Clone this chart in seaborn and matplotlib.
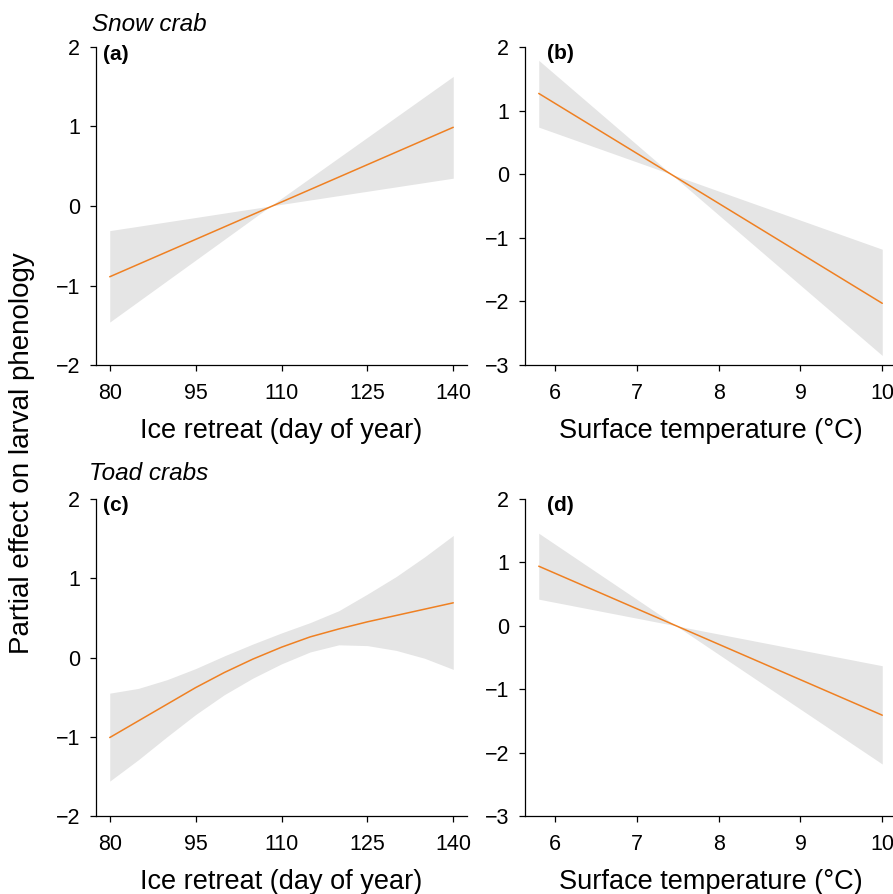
import numpy as np
import matplotlib
matplotlib.use("Agg")
import matplotlib.pyplot as plt
import seaborn as sns

# --- data ---
# (a) Snow crab, ice retreat (linear term, band pinches at the mean)
ice_fit_x_a = [80, 140]
ice_fit_y_a = [-0.89, 0.99]
ice_band_x_a = [80, 108.1, 140]
ice_band_hi_a = [-0.31, 0.0, 1.63]
ice_band_lo_a = [-1.46, 0.0, 0.35]

# (b) Snow crab, surface temperature
sst_fit_x_b = [5.8, 10]
sst_fit_y_b = [1.27, -2.03]
sst_band_x_b = [5.8, 7.42, 10]
sst_band_hi_b = [1.79, 0.0, -1.18]
sst_band_lo_b = [0.74, 0.0, -2.85]

# (c) Toad crabs, ice retreat (smooth term)
ice_x_c = [80, 85, 90, 95, 100, 105, 110, 115, 120, 125, 130, 135, 140]
ice_fit_c = [-1.01, -0.80, -0.59, -0.38, -0.19, -0.02, 0.13, 0.26, 0.36, 0.45, 0.53, 0.61, 0.69]
ice_hi_c = [-0.45, -0.39, -0.28, -0.14, 0.02, 0.17, 0.31, 0.44, 0.59, 0.80, 1.02, 1.27, 1.54]
ice_lo_c = [-1.56, -1.29, -1.00, -0.72, -0.47, -0.26, -0.08, 0.07, 0.16, 0.15, 0.09, -0.01, -0.15]

# (d) Toad crabs, surface temperature
sst_fit_x_d = [5.8, 10]
sst_fit_y_d = [0.94, -1.41]
sst_band_x_d = [5.8, 7.48, 10]
sst_band_hi_d = [1.46, 0.0, -0.63]
sst_band_lo_d = [0.42, 0.0, -2.18]

ice_ticks = [80, 95, 110, 125, 140]
sst_ticks = [6, 7, 8, 9, 10]

LINE = "#EF8022"
BAND = "#E5E5E5"

sns.set_style("ticks")
plt.rcParams["font.family"] = ["Liberation Sans", "DejaVu Sans"]
plt.rcParams["text.color"] = "black"
plt.rcParams["axes.labelcolor"] = "black"


def style_axis(ax, xlim, ylim, xticks, yticks, xlabel):
    ax.set_xlim(*xlim)
    ax.set_ylim(*ylim)
    ax.set_xticks(xticks)
    ax.set_yticks(yticks)
    ax.set_yticklabels([str(t).replace("-", "\u2212") for t in yticks])
    sns.despine(ax=ax)
    for s in ["left", "bottom"]:
        ax.spines[s].set_linewidth(0.9)
        ax.spines[s].set_color("black")
    ax.tick_params(direction="out", length=4.3, width=0.9, colors="black",
                   labelsize=15.5)
    ax.tick_params(axis="x", pad=9)
    ax.tick_params(axis="y", pad=7)
    ax.set_xlabel(xlabel, fontsize=19.5, labelpad=10)
    ax.set_ylabel("")
    ax.grid(False)


fig = plt.figure(figsize=(8.93, 8.94), dpi=100)
W, H = 893, 894

def add_ax(left, top, bottom):
    return fig.add_axes([left / W, 1 - bottom / H, 371 / W, (bottom - top) / H])

ax_a = add_ax(96, 47, 365)
ax_b = add_ax(525, 47, 365)
ax_c = add_ax(96, 499, 816)
ax_d = add_ax(525, 499, 816)

# (a)
ax_a.fill_between(ice_band_x_a, ice_band_lo_a, ice_band_hi_a, color=BAND, lw=0)
sns.lineplot(x=ice_fit_x_a, y=ice_fit_y_a, ax=ax_a, color=LINE, linewidth=1.1)
style_axis(ax_a, (77.6, 142.4), (-2, 2), ice_ticks, [-2, -1, 0, 1, 2],
           "Ice retreat (day of year)")

# (b)
ax_b.fill_between(sst_band_x_b, sst_band_lo_b, sst_band_hi_b, color=BAND, lw=0)
sns.lineplot(x=sst_fit_x_b, y=sst_fit_y_b, ax=ax_b, color=LINE, linewidth=1.1)
style_axis(ax_b, (5.632, 10.168), (-3, 2), sst_ticks, [-3, -2, -1, 0, 1, 2],
           "Surface temperature (\u00b0C)")

# (c)
ax_c.fill_between(ice_x_c, ice_lo_c, ice_hi_c, color=BAND, lw=0)
sns.lineplot(x=ice_x_c, y=ice_fit_c, ax=ax_c, color=LINE, linewidth=1.1)
style_axis(ax_c, (77.6, 142.4), (-2, 2), ice_ticks, [-2, -1, 0, 1, 2],
           "Ice retreat (day of year)")

# (d)
ax_d.fill_between(sst_band_x_d, sst_band_lo_d, sst_band_hi_d, color=BAND, lw=0)
sns.lineplot(x=sst_fit_x_d, y=sst_fit_y_d, ax=ax_d, color=LINE, linewidth=1.1)
style_axis(ax_d, (5.632, 10.168), (-3, 2), sst_ticks, [-3, -2, -1, 0, 1, 2],
           "Surface temperature (\u00b0C)")

# panel letters
for ax, letter, ypos in [(ax_a, "(a)", 0.975), (ax_b, "(b)", 0.98),
                         (ax_c, "(c)", 0.98), (ax_d, "(d)", 0.98)]:
    xpos = 0.019 if ax in (ax_a, ax_c) else 0.06
    ax.text(xpos, ypos, letter, transform=ax.transAxes, fontsize=15,
            fontweight="bold", va="center", ha="left")

ax_a.text(-0.011, 1.051, "Snow crab", transform=ax_a.transAxes, fontsize=17.5,
          style="italic", va="baseline", ha="left")
ax_c.text(-0.019, 1.061, "Toad crabs", transform=ax_c.transAxes, fontsize=17.5,
          style="italic", va="baseline", ha="left")

fig.text(22 / W, 1 - 453 / H, "Partial effect on larval phenology",
         rotation=90, va="center", ha="center", fontsize=20)

fig.savefig("out.png", dpi=100)
